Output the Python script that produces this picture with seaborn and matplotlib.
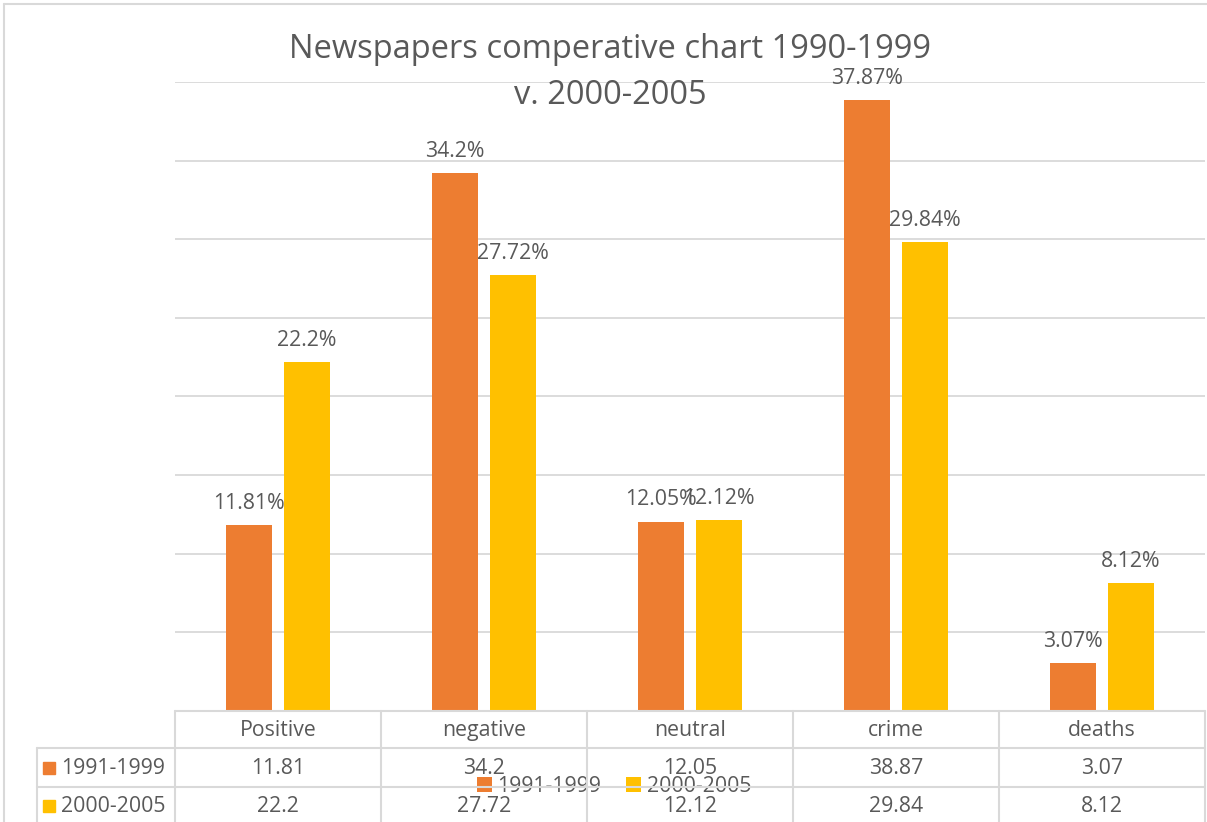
import matplotlib
matplotlib.use("Agg")
import matplotlib.pyplot as plt
from matplotlib.lines import Line2D
from matplotlib.patches import Rectangle
from matplotlib.transforms import blended_transform_factory
import seaborn as sns
import pandas as pd

# --- data -------------------------------------------------------------
categories = ["Positive", "negative", "neutral", "crime", "deaths"]
series_names = ["1991-1999", "2000-2005"]
values_1991_1999 = [11.81, 34.2, 12.05, 38.87, 3.07]
values_2000_2005 = [22.2, 27.72, 12.12, 29.84, 8.12]
# data labels printed above the bars
labels_1991_1999 = ["11.81%", "34.2%", "12.05%", "37.87%", "3.07%"]
labels_2000_2005 = ["22.2%", "27.72%", "12.12%", "29.84%", "8.12%"]
title_lines = ["Newspapers comperative chart 1990-1999", "v. 2000-2005"]

ORANGE = "#ED7D31"
YELLOW = "#FFC000"
TEXT = "#595959"
GRID = "#D9D9D9"
FS = 15.3

df = pd.DataFrame({
    "category": categories * 2,
    "period": [series_names[0]] * len(categories) + [series_names[1]] * len(categories),
    "value": values_1991_1999 + values_2000_2005,
})

sns.set_theme(style="white")
plt.rcParams["font.family"] = ["Open Sans", "DejaVu Sans"]

W, H = 1207, 822
fig = plt.figure(figsize=(W / 100, H / 100), dpi=100)
fig.patch.set_facecolor("white")


def fx(px):
    return px / W


def fy(py):
    return 1 - py / H


ax = fig.add_axes([fx(175), fy(711), fx(1205) - fx(175), fy(82) - fy(711)])

sns.barplot(data=df, x="category", y="value", hue="period", order=categories,
            hue_order=series_names, palette=[ORANGE, YELLOW], saturation=1,
            width=0.563, gap=0.208, linewidth=0, ax=ax)

ax.set_ylim(0, 40)
ax.set_xlim(-0.5, len(categories) - 0.5)
ax.set_yticks(range(0, 45, 5))
ax.yaxis.grid(True, color=GRID, linewidth=1.3)
ax.set_axisbelow(True)
ax.tick_params(left=False, bottom=False, labelleft=False, labelbottom=False)
ax.set_xlabel("")
ax.set_ylabel("")
for s in ax.spines.values():
    s.set_visible(False)

# value labels above bars
for cont, labs in zip(ax.containers, [labels_1991_1999, labels_2000_2005]):
    ax.bar_label(cont, labels=labs, padding=8, color=TEXT, fontsize=FS)

# title
fig.text(fx(610), fy(50), title_lines[0], ha="center", va="center",
         color=TEXT, fontsize=23.5)
fig.text(fx(610), fy(96), title_lines[1], ha="center", va="center",
         color=TEXT, fontsize=23.5)

# chart area border (left and top)
fig.add_artist(Line2D([fx(4), fx(4)], [fy(4), fy(822)], color=GRID, lw=1.5,
                      transform=fig.transFigure))
fig.add_artist(Line2D([fx(4), fx(1207)], [fy(4), fy(4)], color=GRID, lw=1.5,
                      transform=fig.transFigure))

# data table under the axis
tr = blended_transform_factory(ax.transData, fig.transFigure)
row_top, row1, row2, row_end = 711, 748, 787, 830
n = len(categories)
fig.add_artist(Line2D([-0.5, n - 0.5], [fy(row_top), fy(row_top)], color=GRID,
                      lw=1.5, transform=tr))
for y in (row1, row2):
    fig.add_artist(Line2D([fx(37), fx(1205)], [fy(y), fy(y)], color=GRID,
                          lw=1.5, transform=fig.transFigure))
for i in range(n + 1):
    fig.add_artist(Line2D([i - 0.5, i - 0.5], [fy(row_top), fy(row_end)],
                          color=GRID, lw=1.5, transform=tr))
fig.add_artist(Line2D([fx(37), fx(37)], [fy(row1), fy(row_end)], color=GRID,
                      lw=1.5, transform=fig.transFigure))

for i, cat in enumerate(categories):
    fig.text(i, fy(730), cat, transform=tr, ha="center", va="center",
             color=TEXT, fontsize=FS)
    fig.text(i, fy(768), f"{values_1991_1999[i]:g}", transform=tr,
             ha="center", va="center", color=TEXT, fontsize=FS)
    fig.text(i, fy(806), f"{values_2000_2005[i]:g}", transform=tr,
             ha="center", va="center", color=TEXT, fontsize=FS)

for name, col, yc in zip(series_names, [ORANGE, YELLOW], [768, 806]):
    fig.add_artist(Rectangle((fx(43), fy(yc + 6)), fx(12), 12 / H, color=col,
                             transform=fig.transFigure))
    fig.text(fx(61), fy(yc), name, ha="left", va="center", color=TEXT,
             fontsize=FS)

# legend floating over the table
sns.move_legend(ax, "center", bbox_to_anchor=(fx(614), fy(786)),
                bbox_transform=fig.transFigure, ncol=2, frameon=False,
                title=None, fontsize=FS, handlelength=0.7,
                handleheight=0.7, handletextpad=0.25, columnspacing=1.2)
for t in ax.get_legend().get_texts():
    t.set_color(TEXT)

fig.savefig("out.png", dpi=100)
